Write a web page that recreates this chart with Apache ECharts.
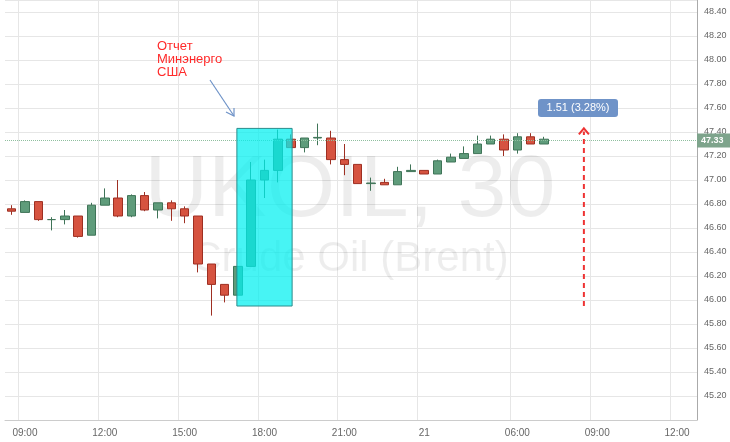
<!DOCTYPE html>
<html><head><meta charset="utf-8">
<script src="https://cdn.jsdelivr.net/npm/echarts@6/dist/echarts.min.js"></script>
<style>html,body{margin:0;padding:0;background:#fff}#c{width:730px;height:442px}</style>
</head><body><div id="c"></div>
<script>
// [open, close, low, high]
const ohlc = [
[46.76,46.74,46.71,46.79],[46.73,46.82,46.73,46.83],[46.82,46.67,46.66,46.82],[46.67,46.67,46.58,46.69],
[46.67,46.70,46.63,46.75],[46.70,46.53,46.52,46.70],[46.54,46.79,46.54,46.81],[46.79,46.85,46.79,46.93],
[46.85,46.70,46.69,47.00],[46.70,46.87,46.69,46.88],[46.87,46.75,46.74,46.90],[46.75,46.81,46.68,46.81],
[46.81,46.76,46.66,46.83],[46.76,46.70,46.64,46.78],[46.70,46.30,46.23,46.70],[46.30,46.13,45.87,46.30],
[46.13,46.04,45.98,46.13],[46.04,46.28,46.04,46.28],[46.28,47.00,46.28,47.15],[47.00,47.08,46.85,47.17],
[47.08,47.34,46.98,47.42],[47.34,47.27,47.27,47.38],[47.27,47.35,47.23,47.35],[47.35,47.355,47.29,47.47],
[47.35,47.17,47.13,47.41],[47.17,47.13,47.04,47.30],[47.13,46.97,46.97,47.13],[46.97,46.975,46.91,47.02],
[46.98,46.96,46.96,47.01],[46.96,47.07,46.96,47.11],[47.07,47.08,47.07,47.13],[47.08,47.05,47.05,47.08],
[47.05,47.16,47.05,47.17],[47.15,47.19,47.15,47.22],[47.18,47.22,47.18,47.28],[47.22,47.30,47.22,47.37],
[47.30,47.34,47.30,47.37],[47.34,47.25,47.20,47.38],[47.25,47.36,47.22,47.39],[47.36,47.30,47.30,47.39],
[47.30,47.34,47.30,47.36]
];
const nCats = 52;
const tickLabels = {1:'09:00',7:'12:00',13:'15:00',19:'18:00',25:'21:00',31:'21',38:'06:00',44:'09:00',50:'12:00'};
const cats = Array.from({length:nCats},(_,i)=>String(i));
const lastPrice = 47.33;
const changeText = '1.51 (3.28%)';
const noteText = 'Отчет\nМинэнерго\nСША';

const chart = echarts.init(document.getElementById('c'));
const isTick = (i)=> tickLabels[i]!==undefined;
chart.setOption({
  animation:false,
  grid:{left:5,right:33,top:0,bottom:22},
  xAxis:{type:'category',data:cats,boundaryGap:true,
    axisLine:{lineStyle:{color:'#ccc'}},axisTick:{show:false},
    axisLabel:{interval:(i)=>isTick(i),formatter:(v)=>tickLabels[+v]||'',color:'#666',fontSize:10,fontFamily:'Arial',margin:8},
    splitLine:{show:true,interval:(i)=>isTick(i),lineStyle:{color:'#e6e6e6'}}},
  yAxis:{type:'value',position:'right',min:45.0,max:48.5,interval:0.2,
    axisLine:{show:true,lineStyle:{color:'#aaa'}},axisTick:{show:false},
    axisLabel:{color:'#666',fontSize:9,fontFamily:'Arial',margin:7,
      formatter:(v)=> (v<45.1||v>48.45)?'':v.toFixed(2)},
    splitLine:{lineStyle:{color:'#e6e6e6'}}},
  series:[{type:'candlestick',data:ohlc,barWidth:9,
    itemStyle:{color:'#5f9c7b',color0:'#d65340',borderColor:'#3f7458',borderColor0:'#9e2f22',borderWidth:1},
    markLine:{symbol:'none',silent:true,label:{show:false},
      lineStyle:{color:'#8fbf9f',type:'dotted',width:1},data:[{yAxis:lastPrice}]}}]
});

function px(i,v){return chart.convertToPixel({gridIndex:0},[i,v]);}
const r1=px(17,47.43), r2=px(21,45.95);
const a1=px(42.6,45.95), a2=px(42.6,47.43);
const lp=px(0,lastPrice);
chart.setOption({graphic:[
  {type:'text',style:{text:'UKOIL, 30',x:350,y:148,fill:'rgba(0,0,0,0.07)',font:'88px Arial',align:'center'},z:0},
  {type:'text',style:{text:'Crude Oil (Brent)',x:350,y:238,fill:'rgba(0,0,0,0.07)',font:'42px Arial',align:'center'},z:0},
  {type:'rect',shape:{x:r1[0]-1,y:r1[1],width:r2[0]-r1[0]+2,height:r2[1]-r1[1]},
    style:{fill:'rgba(0,240,240,0.72)',stroke:'#2a8c8c',lineWidth:1},z:10},
  {type:'line',shape:{x1:a1[0],y1:a1[1],x2:a2[0],y2:a2[1]+3},style:{stroke:'#ee3333',lineWidth:2,lineDash:[5,4]},z:10},
  {type:'polyline',shape:{points:[[a2[0]-5,a2[1]+6],[a2[0],a2[1]],[a2[0]+5,a2[1]+6]]},style:{stroke:'#ee3333',lineWidth:2,fill:null},z:10},
  {type:'rect',shape:{x:538,y:99,width:80,height:18,r:3},style:{fill:'#6f93c8'},z:10},
  {type:'text',style:{text:changeText,x:578,y:108,fill:'#fff',font:'11px Arial',align:'center',verticalAlign:'middle'},z:11},
  {type:'text',style:{text:noteText,x:157,y:40,fill:'#ff2a2a',font:'13px Arial',lineHeight:13},z:10},
  {type:'line',shape:{x1:210,y1:80,x2:234,y2:116},style:{stroke:'#6f93c8',lineWidth:1.2},z:10},
  {type:'polyline',shape:{points:[[226,112],[234,116],[234,108]]},style:{stroke:'#6f93c8',lineWidth:1.2,fill:null},z:10},
  {type:'rect',shape:{x:697,y:lp[1]-7,width:33,height:14},style:{fill:'#7ea48c'},z:10},
  {type:'text',style:{text:lastPrice.toFixed(2),x:701,y:lp[1],fill:'#fff',font:'bold 9px Arial',verticalAlign:'middle'},z:11}
]});
</script></body></html>
